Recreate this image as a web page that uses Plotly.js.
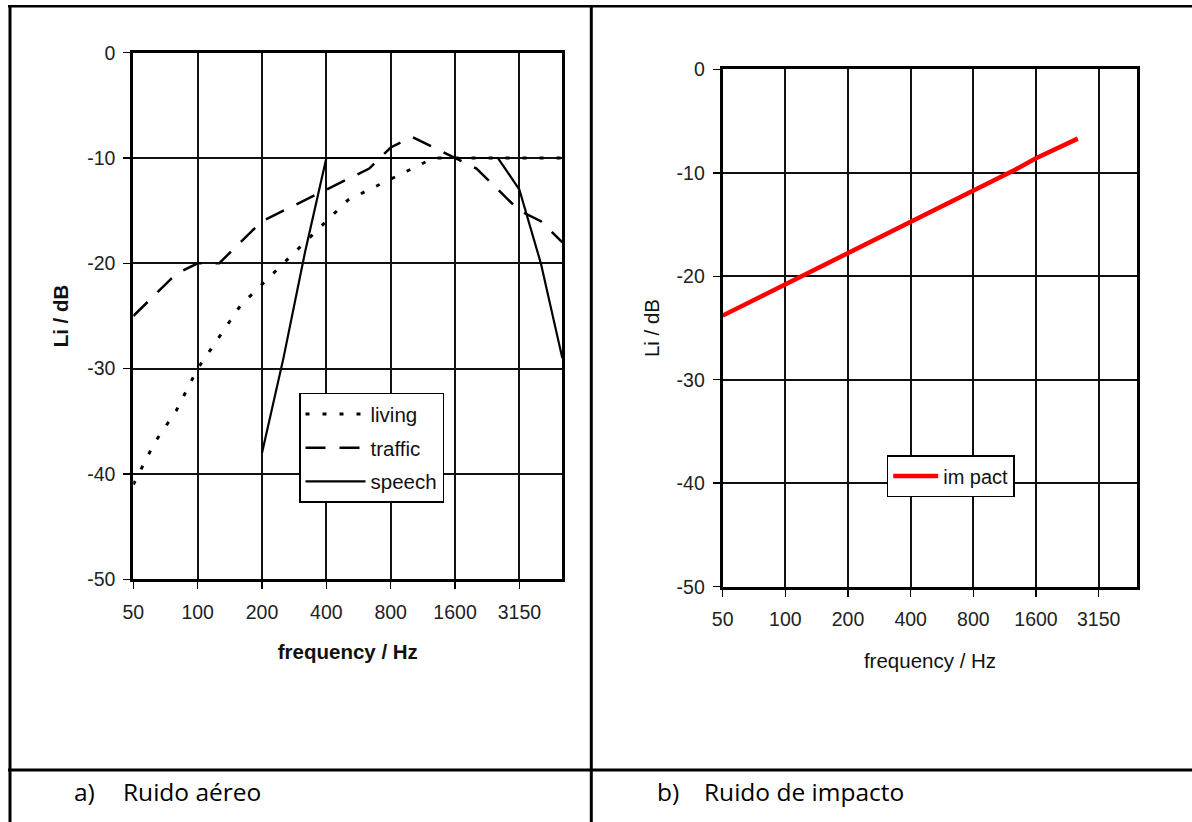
<!DOCTYPE html>
<html>
<head>
<meta charset="utf-8">
<script src="https://cdn.plot.ly/plotly-3.0.1.min.js"></script>
<style>
  html, body { margin: 0; padding: 0; background: #fff; }
  #chart { width: 1192px; height: 822px; }
</style>
</head>
<body>
<div id="chart"></div>
<script>
// Third-octave bands (category axis)
const bands = ['50','63','80','100','125','160','200','250','315','400','500','630','800','1000','1250','1600','2000','2500','3150','4000','5000'];
const tickLabels = ['50','100','200','400','800','1600','3150'];
const yTickVals = [0, -10, -20, -30, -40, -50];
const yTickText = ['0', '-10', '-20', '-30', '-40', '-50'];

// a) Airborne noise spectra (Li / dB)
const livingBands = bands;
const living  = [-41,-37,-34,-30,-27,-24,-22,-20,-18,-16,-14,-13,-12,-11,-10,-10,-10,-10,-10,-10,-10];
const trafficBands = bands;
const traffic = [-25,-23,-21,-20,-20,-18,-16,-15,-14,-13,-12,-11,-9,-8,-9,-10,-11,-13,-15,-16,-18];
const speechBands = ['200','250','315','400','500','630','800','1000','1250','1600','2000','2500','3150','4000','5000'];
const speech  = [-38,-29,-19,-10,-10,-10,-10,-10,-10,-10,-10,-10,-13,-20,-29];

// b) Impact noise spectrum
const impactBands = ['50','63','80','100','125','160','200','250','315','400','500','630','800','1000','1250','1600','2000','2500'];
const impact = [-23.8,-22.8,-21.8,-20.8,-19.8,-18.7,-17.7,-16.7,-15.7,-14.7,-13.7,-12.8,-11.8,-10.8,-9.7,-8.6,-7.6,-6.7];

const idx = arr => arr.map(b => bands.indexOf(b));
const W = 1192, H = 822;
const px = v => v / W;
const py = v => 1 - v / H;

const FONT = 'Liberation Sans, Arial, sans-serif';
const tickFont = { family: FONT, size: 19.5, color: '#222' };

function xAxis(domain, range, bold, standoff) {
  return {
    domain: domain, range: range, type: 'linear',
    tickvals: idx(tickLabels), ticktext: tickLabels,
    tickfont: tickFont, ticks: 'outside', ticklen: 7, tickwidth: 1.5, tickcolor: '#000',
    ticklabelstandoff: 6,
    showgrid: true, gridcolor: '#111', gridwidth: 2,
    showline: true, linecolor: '#000', linewidth: 3, mirror: true,
    zeroline: false, fixedrange: true,
    title: { text: 'frequency / Hz', standoff: standoff,
      font: { family: FONT, size: 20.5, color: '#111', weight: bold ? 'bold' : 'normal' } }
  };
}
function yAxis(domain, bold, standoff) {
  return {
    domain: domain, range: [-50, 0], type: 'linear',
    tickvals: yTickVals, ticktext: yTickText,
    tickfont: tickFont, ticks: 'outside', ticklen: 7, tickwidth: 1.5, tickcolor: '#000',
    ticklabelstandoff: 4,
    showgrid: true, gridcolor: '#111', gridwidth: 2,
    showline: true, linecolor: '#000', linewidth: 3, mirror: true,
    zeroline: false, fixedrange: true,
    title: { text: 'Li / dB', standoff: standoff,
      font: { family: FONT, size: 20.5, color: '#111', weight: bold ? 'bold' : 'normal' } }
  };
}

const traces = [
  { x: idx(livingBands), y: living, name: 'living', type: 'scatter', mode: 'lines',
    line: { color: '#000', width: 3, dash: '4px,13px' }, xaxis: 'x', yaxis: 'y',
    legend: 'legend', legendgroup: 'g1' },
  { x: idx(trafficBands), y: traffic, name: 'traffic', type: 'scatter', mode: 'lines',
    line: { color: '#000', width: 2.5, dash: '20px,14px' }, xaxis: 'x', yaxis: 'y',
    legend: 'legend', legendgroup: 'g2' },
  { x: idx(speechBands), y: speech, name: 'speech', type: 'scatter', mode: 'lines',
    line: { color: '#000', width: 2.2 }, xaxis: 'x', yaxis: 'y',
    legend: 'legend', legendgroup: 'g3' },
  { x: idx(impactBands), y: impact, name: 'im pact', type: 'scatter', mode: 'lines',
    line: { color: '#ff0000', width: 4.5 }, xaxis: 'x2', yaxis: 'y2',
    legend: 'legend2' }
];

const lineStyle = { color: '#000', width: 3 };
const capFont = { family: 'Open Sans, sans-serif', size: 24.5, color: '#000' };
const layout = {
  width: W, height: H,
  margin: { l: 0, r: 0, t: 0, b: 0 },
  paper_bgcolor: '#fff', plot_bgcolor: '#fff',
  showlegend: true,
  xaxis: xAxis([px(133.3), px(562.3)], [0, 20], true, 23),
  yaxis: yAxis([py(579.3), py(52.7)], true, 14),
  xaxis2: Object.assign(xAxis([px(722.7), px(1137.3)], [0, 19.85], false, 25), { anchor: 'y2' }),
  yaxis2: Object.assign(yAxis([py(586.7), py(69.3)], false, 12), { anchor: 'x2' }),
  legend: {
    x: px(299), y: py(392.7), xanchor: 'left', yanchor: 'top',
    bgcolor: '#fff', bordercolor: '#000', borderwidth: 1.5,
    font: { family: FONT, size: 20.5, color: '#111' },
    tracegroupgap: 4, itemwidth: 60, traceorder: 'grouped'
  },
  legend2: {
    x: px(886.7), y: py(455), xanchor: 'left', yanchor: 'top',
    bgcolor: '#fff', bordercolor: '#000', borderwidth: 1.5,
    font: { family: FONT, size: 20, color: '#111' },
    itemwidth: 45
  },
  shapes: [
    { type: 'line', xref: 'paper', yref: 'paper', x0: px(8), x1: 1, y0: py(6.3), y1: py(6.3), line: { color: '#000', width: 2.5 } },
    { type: 'line', xref: 'paper', yref: 'paper', x0: px(10), x1: px(10), y0: py(5), y1: 0, line: lineStyle },
    { type: 'line', xref: 'paper', yref: 'paper', x0: px(591.3), x1: px(591.3), y0: py(5), y1: 0, line: lineStyle },
    { type: 'line', xref: 'paper', yref: 'paper', x0: px(8), x1: 1, y0: py(770), y1: py(770), line: lineStyle }
  ],
  annotations: [
    { text: 'a)', xref: 'paper', yref: 'paper', x: px(72), y: py(791), xanchor: 'left', yanchor: 'middle', showarrow: false, font: capFont },
    { text: 'Ruido aéreo', xref: 'paper', yref: 'paper', x: px(121), y: py(791), xanchor: 'left', yanchor: 'middle', showarrow: false, font: capFont },
    { text: 'b)', xref: 'paper', yref: 'paper', x: px(655), y: py(791), xanchor: 'left', yanchor: 'middle', showarrow: false, font: capFont },
    { text: 'Ruido de impacto', xref: 'paper', yref: 'paper', x: px(702), y: py(791), xanchor: 'left', yanchor: 'middle', showarrow: false, font: capFont }
  ]
};

Plotly.newPlot('chart', traces, layout, { displayModeBar: false, staticPlot: true });
</script>
</body>
</html>
